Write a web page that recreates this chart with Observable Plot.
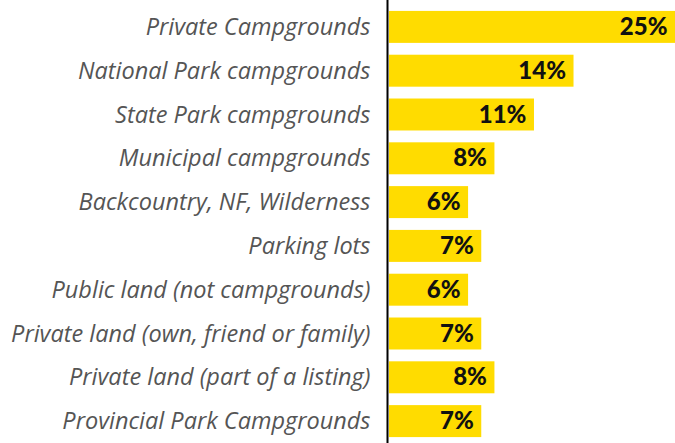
<!DOCTYPE html>
<html>
<head>
<meta charset="utf-8">
<script src="https://cdn.jsdelivr.net/npm/d3@7"></script>
<script src="https://cdn.jsdelivr.net/npm/@observablehq/plot@0.6"></script>
<style>
  html, body { margin: 0; padding: 0; background: #fff; }
</style>
</head>
<body>
<div id="chart"></div>
<script>
const categories = [
  "Private Campgrounds",
  "National Park campgrounds",
  "State Park campgrounds",
  "Municipal campgrounds",
  "Backcountry, NF, Wilderness",
  "Parking lots",
  "Public land (not campgrounds)",
  "Private land (own, friend or family)",
  "Private land (part of a listing)",
  "Provincial Park Campgrounds"
];
const values = [25, 14, 11, 8, 6, 7, 6, 7, 8, 7];

const data = categories.map((c, i) => ({category: c, value: values[i]}));

const chart = Plot.plot({
  width: 675,
  height: 443,
  marginLeft: 389,
  marginRight: 0,
  marginTop: 5,
  marginBottom: 0,
  style: {background: "#fff"},
  x: {domain: [0, 21.7], clamp: true, axis: null},
  y: {domain: categories, paddingInner: 0.27, paddingOuter: 0.135, round: false, axis: null},
  marks: [
    Plot.barX(data, {x: "value", y: "category", fill: "#FFDC00"}),
    Plot.text(data, {
      x: "value", y: "category", text: d => d.value + "%",
      textAnchor: "end", dx: -8, fill: "#111",
      fontSize: 24, fontWeight: 900, fontFamily: "Lato"
    }),
    Plot.text(data, {
      x: 0, y: "category", text: "category",
      textAnchor: "end", dx: -19, fill: "#555",
      fontSize: 23.5, fontStyle: "italic", fontFamily: "Open Sans"
    }),
    Plot.ruleX([0], {stroke: "#000", strokeWidth: 2, dx: -2, insetTop: -5})
  ]
});
document.getElementById("chart").appendChild(chart);
</script>
</body>
</html>
